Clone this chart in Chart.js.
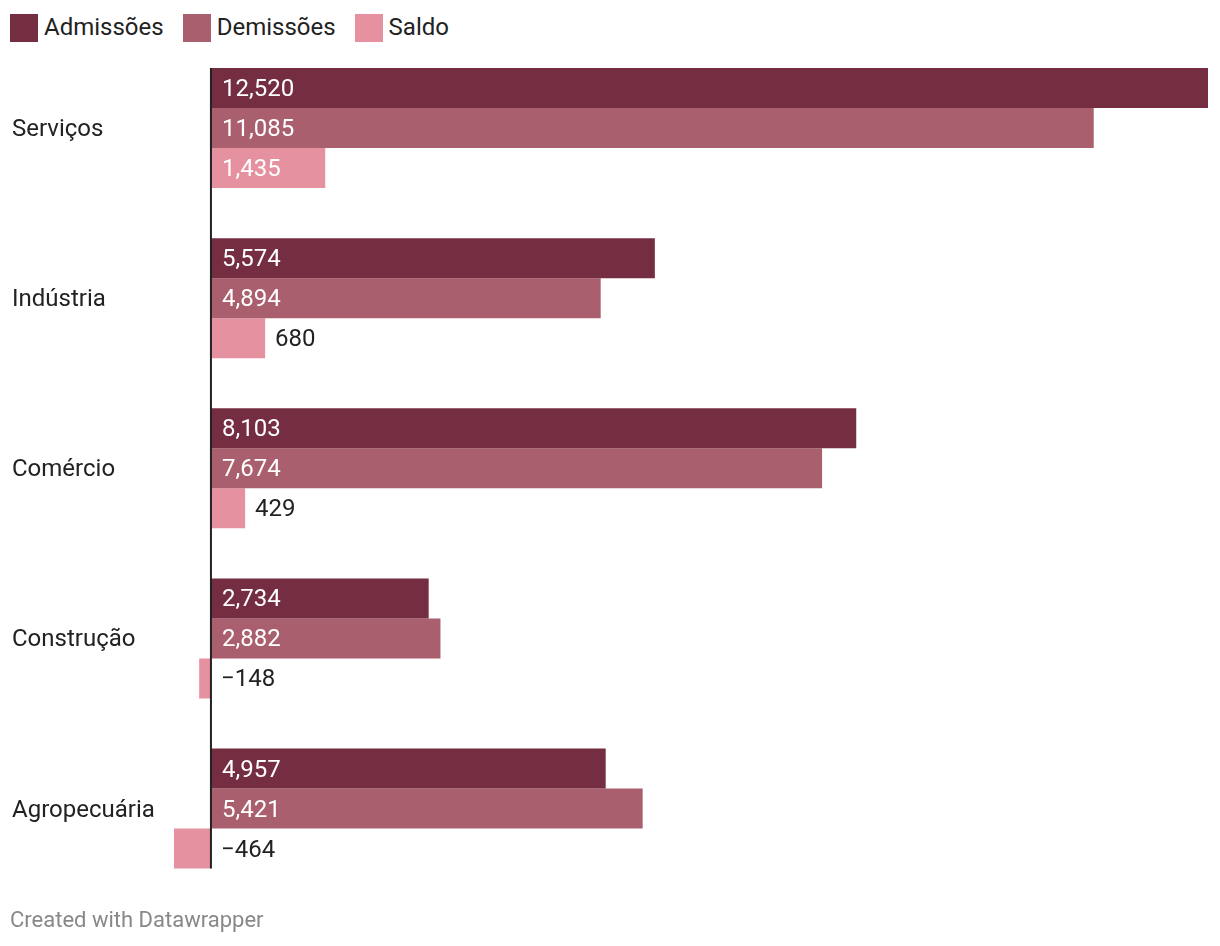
<!DOCTYPE html>
<html>
<head>
<meta charset="utf-8">
<script src="https://cdn.jsdelivr.net/npm/chart.js@4"></script>
<style>
  html, body { margin: 0; padding: 0; background: #fff; }
  body { width: 1220px; height: 946px; position: relative; overflow: hidden; font-family: Roboto, sans-serif; }
  #legend { position: absolute; left: 10px; top: 14px; display: flex; font-size: 24px; color: #222; }
  .item { display: flex; align-items: center; margin-right: 19px; height: 28px; }
  .sw { width: 28px; height: 28px; margin-right: 6px; }
  .item span { position: relative; top: -1px; }
  #wrap { position: absolute; left: 0; top: 0; width: 1220px; height: 908px; }
  #foot { position: absolute; left: 10px; top: 907px; font-size: 22px; color: #888; }
</style>
</head>
<body>
<div id="legend"></div>
<div id="wrap"><canvas id="chart"></canvas></div>
<div id="foot">Created with Datawrapper</div>
<script>
(function () {
  'use strict';

  var categories = ['Serviços', 'Indústria', 'Comércio', 'Construção', 'Agropecuária'];
  var seriesNames = ['Admissões', 'Demissões', 'Saldo'];
  var admissoes = [12520, 5574, 8103, 2734, 4957];
  var demissoes = [11085, 4894, 7674, 2882, 5421];
  var saldo = [1435, 680, 429, -148, -464];
  var colors = ['#752d41', '#aa5f6e', '#e691a0'];

  // ── HTML legend ─────────────────────────────────────────────
  var legend = document.getElementById('legend');
  seriesNames.forEach(function (name, i) {
    var item = document.createElement('div');
    item.className = 'item';
    var sw = document.createElement('div');
    sw.className = 'sw';
    sw.style.background = colors[i];
    var txt = document.createElement('span');
    txt.textContent = name;
    item.appendChild(sw);
    item.appendChild(txt);
    legend.appendChild(item);
  });

  function fmt(v) {
    var s = Math.abs(v).toLocaleString('en-US');
    return v < 0 ? '\u2212' + s : s;
  }

  // zero line across the bars
  var zeroLine = {
    id: 'zeroLine',
    afterDatasetsDraw: function (chart) {
      var ctx = chart.ctx;
      var x = chart.scales.x.getPixelForValue(0);
      var first = chart.getDatasetMeta(0).data[0];
      var lastMeta = chart.getDatasetMeta(2);
      var last = lastMeta.data[lastMeta.data.length - 1];
      var top = first.y - first.height / 2;
      var bottom = last.y + last.height / 2;
      ctx.save();
      ctx.strokeStyle = '#222';
      ctx.lineWidth = 2;
      ctx.beginPath();
      ctx.moveTo(x, top);
      ctx.lineTo(x, bottom);
      ctx.stroke();
      ctx.restore();
    }
  };

  // value labels: white inside wide bars, dark beside narrow ones
  var valueLabels = {
    id: 'valueLabels',
    afterDatasetsDraw: function (chart) {
      var ctx = chart.ctx;
      var zero = chart.scales.x.getPixelForValue(0);
      ctx.save();
      ctx.font = '24px Roboto';
      ctx.textBaseline = 'middle';
      ctx.textAlign = 'left';
      chart.data.datasets.forEach(function (ds, di) {
        chart.getDatasetMeta(di).data.forEach(function (bar, i) {
          var v = ds.data[i];
          var label = fmt(v);
          var w = ctx.measureText(label).width;
          var barW = Math.abs(bar.x - zero);
          if (v > 0 && w + 22 < barW) {
            ctx.fillStyle = '#fff';
            ctx.fillText(label, zero + 11, bar.y + 2);
          } else {
            ctx.fillStyle = '#222';
            ctx.fillText(label, Math.max(bar.x, zero) + 10, bar.y + 2);
          }
        });
      });
      ctx.restore();
    }
  };

  new Chart(document.getElementById('chart'), {
    type: 'bar',
    data: {
      labels: categories,
      datasets: [
        { label: seriesNames[0], data: admissoes, backgroundColor: colors[0] },
        { label: seriesNames[1], data: demissoes, backgroundColor: colors[1] },
        { label: seriesNames[2], data: saldo, backgroundColor: colors[2] }
      ]
    },
    options: {
      indexAxis: 'y',
      responsive: true,
      maintainAspectRatio: false,
      animation: false,
      layout: { padding: { top: 43, bottom: 0, left: 12, right: 12 } },
      datasets: {
        bar: { categoryPercentage: 120 / 170, barPercentage: 1, borderWidth: 0 }
      },
      plugins: { legend: { display: false }, tooltip: { enabled: false } },
      scales: {
        x: {
          display: false,
          min: -464,
          max: 12520
        },
        y: {
          grid: { display: false },
          border: { display: false },
          ticks: {
            crossAlign: 'far',
            color: '#222',
            padding: 0,
            labelOffset: 2,
            font: { family: 'Roboto', size: 24 }
          },
          afterFit: function (scale) { scale.width = 162; }
        }
      }
    },
    plugins: [zeroLine, valueLabels]
  });
}());
</script>
</body>
</html>
